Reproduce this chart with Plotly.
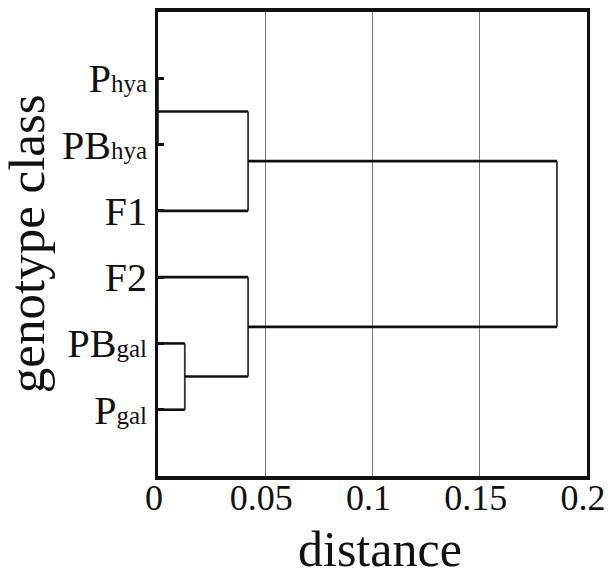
import plotly.graph_objects as go

# ---- data ----
leaf_names = ["Pgal", "PBgal", "F2", "F1", "PBhya", "Phya"]          # bottom -> top
leaf_labels = ["P<span style='font-size:25px'>gal</span>",
               "PB<span style='font-size:25px'>gal</span>",
               "F2", "F1",
               "PB<span style='font-size:25px'>hya</span>",
               "P<span style='font-size:25px'>hya</span>"]
# merges: (left member, right member, distance) -- members are leaf names or earlier merge ids
merge_a = ["Phya", "PBgal", "F1", "F2", "m2"]
merge_b = ["PBhya", "Pgal", "m0", "m1", "m3"]
merge_h = [0.0, 0.0125, 0.042, 0.042, 0.186]
x_ticks = [0, 0.05, 0.1, 0.15, 0.2]
x_ticktext = ["0", "0.05", "0.1", "0.15", "0.2"]

# ---- build dendrogram geometry ----
pos = {n: (0.0, i + 1) for i, n in enumerate(leaf_names)}  # name -> (height, y)
hx, hy, vx, vy = [], [], [], []
for k, (a, b, h) in enumerate(zip(merge_a, merge_b, merge_h)):
    ha, ya = pos[a]
    hb, yb = pos[b]
    hx += [ha, h, None, hb, h, None]
    hy += [ya, ya, None, yb, yb, None]
    vx += [h, h, None]
    vy += [ya, yb, None]
    pos[f"m{k}"] = (h, (ya + yb) / 2)

fig = go.Figure()
fig.add_trace(go.Scatter(x=vx, y=vy, mode="lines",
                         line=dict(color="#333333", width=1.8), hoverinfo="skip"))
fig.add_trace(go.Scatter(x=hx, y=hy, mode="lines",
                         line=dict(color="#111111", width=2.6), hoverinfo="skip"))

font_family = "Liberation Serif, Times New Roman, serif"
fig.update_layout(
    width=608, height=576,
    margin=dict(l=158, r=21, t=12, b=100),
    paper_bgcolor="white", plot_bgcolor="white",
    showlegend=False,
    font=dict(family=font_family, color="#111111"),
    xaxis=dict(range=[0, 0.2], tickvals=x_ticks, ticktext=x_ticktext,
               showgrid=True, gridcolor="#777777", gridwidth=1,
               showline=True, mirror=True, linecolor="#111111", linewidth=4,
               ticks="", zeroline=False, ticklabeloverflow="allow",
               ticklabelstandoff=-13, ticklabelshift=-4, automargin=False,
               tickfont=dict(size=36, family=font_family)),
    yaxis=dict(range=[0, 7], tickvals=list(range(1, len(leaf_names) + 1)), ticktext=leaf_labels,
               showgrid=False, zeroline=False, automargin=False,
               showline=True, mirror=True, linecolor="#111111", linewidth=3,
               ticks="inside", ticklen=6, tickwidth=3, tickcolor="#111111",
               tickfont=dict(size=40, family=font_family)),
    annotations=[
        dict(text="distance", xref="paper", yref="paper", x=0.517, y=-0.158,
             xanchor="center", yanchor="middle", showarrow=False,
             font=dict(size=50, family=font_family, color="#111111")),
        dict(text="genotype class", xref="paper", yref="paper", x=-0.305, y=0.50,
             xanchor="center", yanchor="middle", textangle=-90, showarrow=False,
             font=dict(size=51, family=font_family, color="#111111")),
    ],
)
fig.write_html("out.html")
